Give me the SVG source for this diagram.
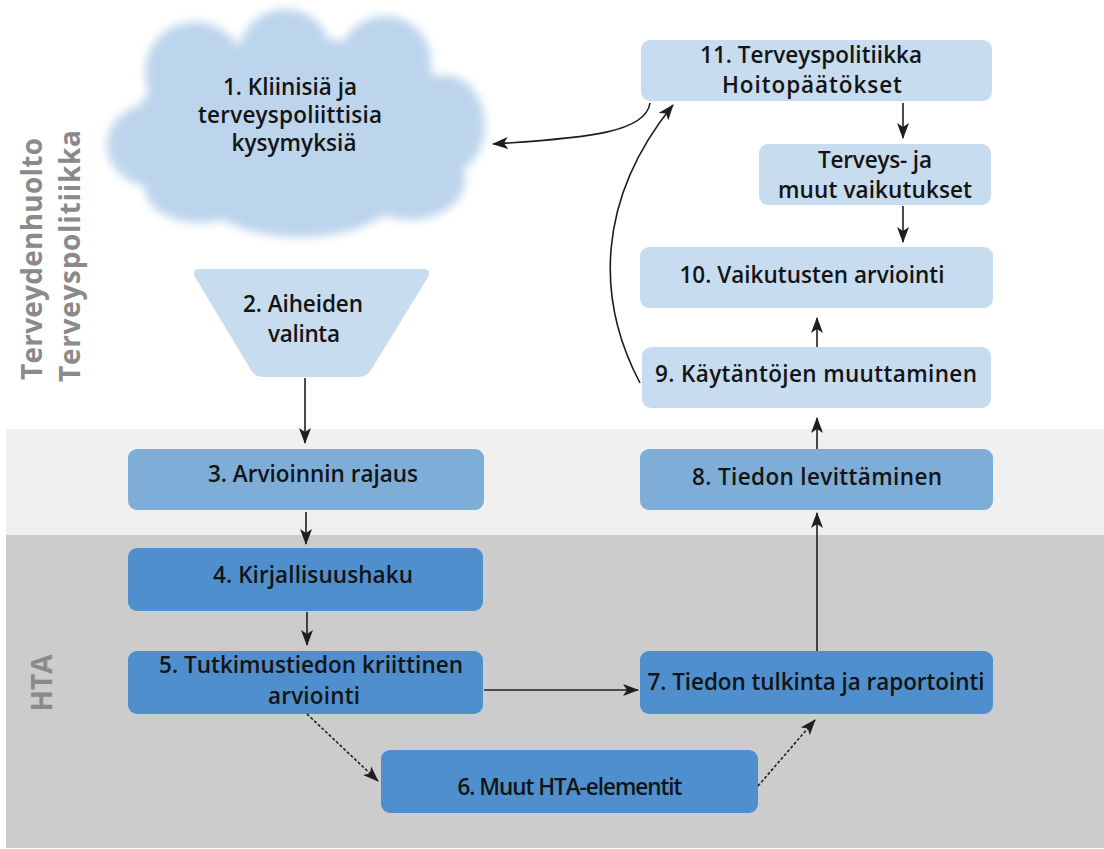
<svg xmlns="http://www.w3.org/2000/svg" width="1104" height="849" viewBox="0 0 1104 849">
<defs>
<style>
.t{font-family:"Open Sans","Liberation Sans",sans-serif;font-weight:600;font-size:22.5px;fill:#141414;text-anchor:middle}
.side{font-family:"Open Sans","Liberation Sans",sans-serif;font-weight:700;font-size:28px;fill:#8a8a8a;text-anchor:middle}
.lt{fill:#c8dcef}
.md{fill:#7eadd8}
.dk{fill:#4f8fcd}
.c{fill:none;stroke:#1e1e1e;stroke-width:1.6}
.d{fill:none;stroke:#1e1e1e;stroke-width:1.6;stroke-dasharray:3 2}
</style>
<marker id="ah" viewBox="0 0 16 12" refX="15" refY="6" markerWidth="16" markerHeight="12" markerUnits="userSpaceOnUse" orient="auto">
<path d="M0,0 L16,6 L0,12 L4,6 Z" fill="#1e1e1e"/>
</marker>
<filter id="blur" x="-20%" y="-20%" width="140%" height="140%"><feGaussianBlur stdDeviation="5"/></filter>
</defs>
<rect width="1104" height="849" fill="#ffffff"/>
<rect x="6" y="429" width="1098" height="106" fill="#f0f0f0"/>
<rect x="6" y="535" width="1098" height="313" fill="#cccccd"/>
<text class="side" transform="translate(42,259) rotate(-90)" textLength="242" lengthAdjust="spacing">Terveydenhuolto</text>
<text class="side" transform="translate(80,256) rotate(-90)" textLength="252" lengthAdjust="spacing">Terveyspolitiikka</text>
<text class="side" transform="translate(52,683) rotate(-90)" textLength="57" lengthAdjust="spacing">HTA</text>
<g id="node1">
<g fill="#bcd4ec" filter="url(#blur)">
<ellipse cx="300" cy="128" rx="165" ry="90"/>
<circle cx="195" cy="72" r="50"/>
<circle cx="285" cy="55" r="46"/>
<circle cx="385" cy="62" r="46"/>
<ellipse cx="445" cy="125" rx="40" ry="50"/>
<ellipse cx="155" cy="145" rx="48" ry="42"/>
<ellipse cx="300" cy="195" rx="95" ry="42"/>
<ellipse cx="410" cy="180" rx="55" ry="40"/>
<ellipse cx="200" cy="188" rx="55" ry="35"/>
</g>
<text class="t" x="290" y="95" textLength="134" lengthAdjust="spacing">1. Kliinisiä ja</text>
<text class="t" x="290" y="123" textLength="184" lengthAdjust="spacing">terveyspoliittisia</text>
<text class="t" x="294" y="151" textLength="125" lengthAdjust="spacing">kysymyksiä</text>
</g>
<g id="node2">
<path class="lt" d="M200,269 L423,269 Q432,269 428,277 L371,370 Q367,377 358,377 L264,377 Q255,377 251,370 L195,277 Q191,269 200,269 Z"/>
<text class="t" x="303" y="312" textLength="120" lengthAdjust="spacing">2. Aiheiden</text>
<text class="t" x="304" y="342" textLength="72" lengthAdjust="spacing">valinta</text>
</g>
<g id="node3"><rect class="md" x="128" y="449" width="356" height="61" rx="9"/><text class="t" x="313" y="482" textLength="210" lengthAdjust="spacing">3. Arvioinnin rajaus</text></g>
<g id="node4"><rect class="dk" x="128" y="548" width="355" height="63" rx="9"/><text class="t" x="313" y="583" textLength="200" lengthAdjust="spacing">4. Kirjallisuushaku</text></g>
<g id="node5"><rect class="dk" x="128" y="651" width="355" height="63" rx="9"/><text class="t" x="311" y="673" textLength="304" lengthAdjust="spacing">5. Tutkimustiedon kriittinen</text><text class="t" x="314" y="704" textLength="92" lengthAdjust="spacing">arviointi</text></g>
<g id="node6"><rect class="dk" x="381" y="750" width="377" height="63" rx="9"/><text class="t" x="570" y="795" textLength="225" lengthAdjust="spacing">6. Muut HTA-elementit</text></g>
<g id="node7"><rect class="dk" x="640" y="651" width="353" height="63" rx="9"/><text class="t" x="816" y="690" textLength="337" lengthAdjust="spacing">7. Tiedon tulkinta ja raportointi</text></g>
<g id="node8"><rect class="md" x="640" y="449" width="353" height="61" rx="9"/><text class="t" x="817" y="485" textLength="250" lengthAdjust="spacing">8. Tiedon levittäminen</text></g>
<g id="node9"><rect class="lt" x="642" y="347" width="349" height="61" rx="9"/><text class="t" x="816" y="382" textLength="322" lengthAdjust="spacing">9. Käytäntöjen muuttaminen</text></g>
<g id="node10"><rect class="lt" x="640" y="247" width="353" height="61" rx="9"/><text class="t" x="812" y="283" textLength="265" lengthAdjust="spacing">10. Vaikutusten arviointi</text></g>
<g id="nodeVaik"><rect class="lt" x="759" y="144" width="232" height="61" rx="9"/><text class="t" x="875" y="168" textLength="114" lengthAdjust="spacing">Terveys- ja</text><text class="t" x="875" y="198" textLength="194" lengthAdjust="spacing">muut vaikutukset</text></g>
<g id="node11"><rect class="lt" x="641" y="40" width="351" height="61" rx="9"/><text class="t" x="811" y="63" textLength="222" lengthAdjust="spacing">11. Terveyspolitiikka</text><text class="t" x="812" y="93" textLength="180" lengthAdjust="spacing">Hoitopäätökset</text></g>
<g id="connectors">
<path class="c" marker-end="url(#ah)" d="M305,378 L305,443"/>
<path class="c" marker-end="url(#ah)" d="M306,512 L306,544"/>
<path class="c" marker-end="url(#ah)" d="M307,612 L307,645"/>
<path class="c" marker-end="url(#ah)" d="M484,690 L638,690"/>
<path class="d" marker-end="url(#ah)" d="M307,714 L378,781"/>
<path class="d" marker-end="url(#ah)" d="M758,786 L815,720"/>
<path class="c" marker-end="url(#ah)" d="M817,651 L817,513"/>
<path class="c" marker-end="url(#ah)" d="M817,449 L817,418"/>
<path class="c" marker-end="url(#ah)" d="M817,347 L817,318"/>
<path class="c" marker-end="url(#ah)" d="M903,103 L903,138"/>
<path class="c" marker-end="url(#ah)" d="M903,206 L903,242"/>
<path class="c" marker-end="url(#ah)" d="M650,103 C646,132 590,138 493,144"/>
<path class="c" marker-end="url(#ah)" d="M640,383 C596,300 596,200 673,105"/>
</g>
</svg>
